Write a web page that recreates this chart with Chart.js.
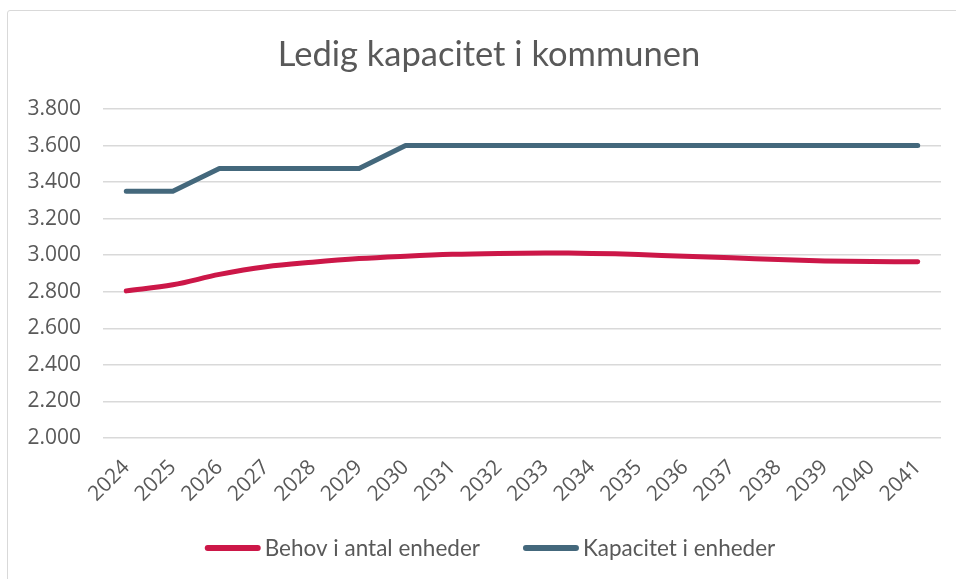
<!DOCTYPE html>
<html><head><meta charset="utf-8">
<script src="https://cdn.jsdelivr.net/npm/chart.js@4.4.0/dist/chart.umd.min.js"></script>
<style>
html,body{margin:0;padding:0;background:#fff;}
#wrap{position:relative;width:956px;height:579px;overflow:hidden;}
#frame{position:absolute;left:7px;top:10px;width:1000px;height:700px;border:1.5px solid #d9d9d9;border-radius:3px;box-sizing:border-box;pointer-events:none;}
canvas{position:absolute;left:0;top:0;}
</style></head><body>
<div id="wrap"><canvas id="c" width="956" height="579"></canvas><div id="frame"></div></div>
<script>
const TITLE = 'Ledig kapacitet i kommunen';
const years = ['2024','2025','2026','2027','2028','2029','2030','2031','2032','2033','2034','2035','2036','2037','2038','2039','2040','2041'];
const behov = [2805, 2838, 2895, 2937, 2962, 2982, 2995, 3005, 3010, 3012, 3010, 3004, 2994, 2986, 2976, 2969, 2965, 2964];
const kapacitet = [3350, 3350, 3475, 3475, 3475, 3475, 3600, 3600, 3600, 3600, 3600, 3600, 3600, 3600, 3600, 3600, 3600, 3600];
const seriesNames = ['Behov i antal enheder', 'Kapacitet i enheder'];
const yMin = 2000, yMax = 3800, yStep = 200;

const TXT = '#595959';
const tickFont = {family: "'Open Sans', 'Noto Sans', sans-serif", size: 21};
const narrow = "'Lato', sans-serif";
const legendFontSize = 22.5;
const titleFontSize = 34.5;

function fmt(v){ return Math.floor(v/1000) + '.' + String(v % 1000).padStart(3,'0'); }

const titleAndLegend = {
  id: 'titleAndLegend',
  afterDraw(chart) {
    const ctx = chart.ctx;
    ctx.save();
    // title
    ctx.font = titleFontSize + 'px ' + narrow;
    ctx.fillStyle = TXT;
    ctx.textAlign = 'center';
    ctx.textBaseline = 'alphabetic';
    ctx.fillText(TITLE, 489, 66);
    // legend
    ctx.font = legendFontSize + 'px ' + narrow;
    ctx.textBaseline = 'middle';
    const lineW = 56, gap = 4, spacing = 43;
    const items = chart.data.datasets.map(ds => ({ds, w: ctx.measureText(ds.label).width}));
    let total = 0;
    items.forEach((it, i) => { total += lineW + gap + it.w + (i < items.length - 1 ? spacing : 0); });
    let x = 490 - total / 2;
    const y = 548;
    items.forEach(it => {
      ctx.strokeStyle = it.ds.borderColor;
      ctx.lineWidth = 6;
      ctx.lineCap = 'round';
      ctx.beginPath();
      ctx.moveTo(x + 3, y);
      ctx.lineTo(x + lineW - 3, y);
      ctx.stroke();
      ctx.fillStyle = TXT;
      ctx.textAlign = 'left';
      ctx.fillText(it.ds.label, x + lineW + gap, y + 1);
      x += lineW + gap + it.w + spacing;
    });
    ctx.restore();
  }
};

new Chart(document.getElementById('c'), {
  type: 'line',
  data: {
    labels: years,
    datasets: [
      {label: seriesNames[0], data: behov, borderColor: '#CC1748', backgroundColor: '#CC1748', borderWidth: 5, tension: 0.35, pointRadius: 0, borderCapStyle: 'round', borderJoinStyle: 'round', fill: false},
      {label: seriesNames[1], data: kapacitet, borderColor: '#44687C', backgroundColor: '#44687C', borderWidth: 5, tension: 0, pointRadius: 0, borderCapStyle: 'round', borderJoinStyle: 'round', fill: false}
    ]
  },
  options: {
    responsive: false, animation: false,
    layout: {padding: {left: 10, right: 15, top: 109, bottom: 71}},
    plugins: {
      title: {display: false},
      legend: {display: false},
      tooltip: {enabled: false}
    },
    scales: {
      x: {offset: true, grid: {display: false, drawTicks: false}, border: {display: false},
          ticks: {autoSkip: false, minRotation: 45, maxRotation: 45, color: TXT, font: tickFont, padding: 17},
          afterFit(s){ s.height = 70; }},
      y: {min: yMin, max: yMax, grid: {color: '#d9d9d9', lineWidth: 1.5, drawTicks: false}, border: {display: false},
          ticks: {stepSize: yStep, color: TXT, font: tickFont, padding: 22, callback: v => fmt(v)},
          afterFit(s){ s.width = 93; }}
    }
  },
  plugins: [titleAndLegend]
});
</script>
</body></html>
